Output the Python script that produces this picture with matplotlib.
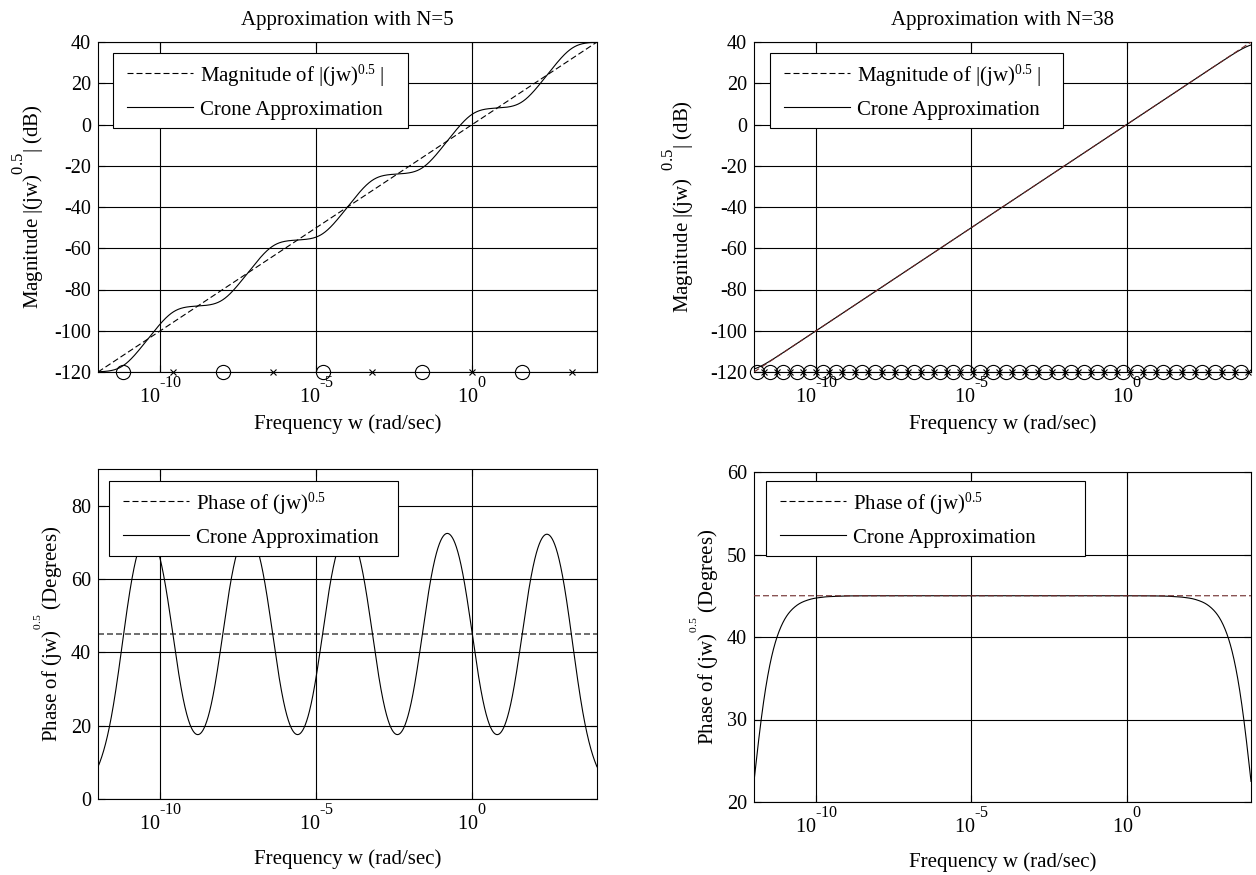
import numpy as np
import matplotlib
matplotlib.use("Agg")
import matplotlib.pyplot as plt
from matplotlib.ticker import FixedLocator, FixedFormatter
from matplotlib.legend_handler import HandlerLine2D

# Exponent layout: log tick labels use large, high exponents; axis labels use
# small high exponents; legend entries keep a normal superscript.
try:
    import matplotlib._mathtext as _mt
    _mt.FontConstantsBase.sup1 = 1.55
    _mt.SHRINK_FACTOR = 0.8
except Exception:
    _mt = None


def exponent_style(artist, sup1, shrink):
    if _mt is None:
        return
    orig_draw = artist.draw

    def draw(renderer, *args, **kwargs):
        saved = (_mt.FontConstantsBase.sup1, _mt.SHRINK_FACTOR)
        _mt.FontConstantsBase.sup1 = sup1
        _mt.SHRINK_FACTOR = shrink
        try:
            return orig_draw(renderer, *args, **kwargs)
        finally:
            _mt.FontConstantsBase.sup1, _mt.SHRINK_FACTOR = saved

    artist.draw = draw


plt.rcParams.update({
    "font.family": ["Liberation Serif", "DejaVu Serif"],
    "mathtext.fontset": "custom",
    "mathtext.rm": "Liberation Serif",
    "mathtext.it": "Liberation Serif:italic",
    "mathtext.bf": "Liberation Serif:bold",
    "axes.unicode_minus": False,
    "font.size": 14,
    "axes.linewidth": 0.8,
    "xtick.direction": "in",
    "ytick.direction": "in",
    "xtick.top": True,
    "ytick.right": True,
    "xtick.major.size": 5,
    "ytick.major.size": 5,
    "xtick.labelsize": 14.5,
    "ytick.labelsize": 14.5,
})

# Crone (Oustaloup) approximation of s^nu over a frequency band
nu = 0.5
w_low = 1e-12
w_high = 1e4
orders = [5, 38]

freq_ticks = [1e-10, 1e-5, 1e0]
freq_labels = [r"$\mathrm{10}^{\text{-10}}$", r"$\mathrm{10}^{\text{-5}}$", r"$\mathrm{10}^{\text{0}}$"]
mag_ticks = [-120, -100, -80, -60, -40, -20, 0, 20, 40]
phase_ticks = [[0, 20, 40, 60, 80], [20, 30, 40, 50, 60]]
mag_limits = (-120, 40)
phase_limits = [(0, 90), (20, 60)]

mag_ylabels = [r"Magnitude $|(\mathrm{jw})^{0.5}|$ (dB)",
               r"Magnitude $|(\mathrm{jw})^{\ \ 0.5}|$ (dB)"]
phase_ylabel = r"Phase of $(\mathrm{jw})^{\,0.5}$ (Degrees)"
mag_legend = [r"Magnitude of $|(\mathrm{jw})^{0.5}\ |$", "Crone Approximation"]
phase_legend = [r"Phase of $(\mathrm{jw})^{0.5}$", "Crone Approximation"]


def crone_network(N):
    k = np.arange(1, N + 1)
    span = w_high / w_low
    zeros = w_low * span ** ((2 * k - 1 - nu) / (2 * N))
    poles = w_low * span ** ((2 * k - 1 + nu) / (2 * N))
    return zeros, poles


w = np.logspace(np.log10(w_low), np.log10(w_high), 4000)
s = 1j * w
ideal_mag = 20 * np.log10(np.abs(s ** nu))
ideal_phase = np.degrees(np.angle(s ** nu))

fig = plt.figure(figsize=(12.56, 8.75), dpi=100)
W, H = 1256.0, 875.0


def place(x0, x1, y0, y1):
    return fig.add_axes([x0 / W, 1 - y1 / H, (x1 - x0) / W, (y1 - y0) / H])


axes_px = {
    (0, 0): (98, 597, 42, 372),
    (1, 0): (98, 597, 469, 799),
    (0, 1): (754, 1251, 42, 372),
    (1, 1): (754, 1251, 472, 802),
}
# legend boxes in axes fractions: left, top, width
legend_box = {
    (0, 0): (0.030, 0.967, 0.591),
    (1, 0): (0.022, 0.964, 0.579),
    (0, 1): (0.032, 0.967, 0.590),
    (1, 1): (0.024, 0.973, 0.642),
}


def style_freq_axis(ax):
    ax.set_xscale("log")
    ax.set_xlim(w_low, w_high)
    ax.xaxis.set_major_locator(FixedLocator(freq_ticks))
    ax.xaxis.set_major_formatter(FixedFormatter(freq_labels))
    ax.xaxis.set_minor_locator(FixedLocator([]))
    ax.grid(True, color="black", linewidth=0.8)
    ax.tick_params(axis="x", which="major", width=0.8, pad=4)
    ax.tick_params(axis="y", which="major", width=0.8, pad=5)
    for sp in ax.spines.values():
        sp.set_linewidth(0.8)


def set_ylabel(ax, text, pad):
    ax.set_ylabel(text, fontsize=15, labelpad=pad)
    exponent_style(ax.yaxis.label, 1.55, 0.55)


def add_legend(ax, handles, labels, box):
    x0, top, wid = box
    leg = ax.legend(handles, labels, loc="upper left",
                    bbox_to_anchor=(x0, top, wid, 0), mode="expand",
                    borderaxespad=0, fancybox=False, framealpha=1,
                    edgecolor="black", handlelength=3.43, handletextpad=0.34,
                    labelspacing=0.55, borderpad=0.42, fontsize=15,
                    handler_map={h: HandlerLine2D(xpad=0.25) for h in handles})
    leg.get_frame().set_linewidth(0.8)
    for ln in leg.get_lines():
        ln.set_color("black")
    exponent_style(leg, 0.7, 0.65)
    return leg


dash = (5.4, 2.7)

for col, N in enumerate(orders):
    zeros, poles = crone_network(N)
    resp = np.full_like(s, w_low ** nu)
    for z, p in zip(zeros, poles):
        resp = resp * (1 + s / z) / (1 + s / p)
    mag = 20 * np.log10(np.abs(resp))
    phase = np.degrees(np.angle(resp))

    ideal_color = "black" if col == 0 else "#6e2b2b"
    ideal_z = 2 if col == 0 else 3

    # magnitude
    ax = place(*axes_px[(0, col)])
    l1, = ax.plot(w, ideal_mag, color=ideal_color, linewidth=0.8, dashes=dash, zorder=ideal_z)
    l2, = ax.plot(w, mag, color="black", linewidth=0.8, zorder=2.5)
    ax.plot(zeros, np.full(N, mag_limits[0]), linestyle="none", marker="o",
            markersize=10.2, markerfacecolor="none", markeredgecolor="black",
            markeredgewidth=0.8, clip_on=False, zorder=4)
    ax.plot(poles, np.full(N, mag_limits[0]), linestyle="none", marker="x",
            markersize=5, markeredgecolor="black", markeredgewidth=0.8,
            clip_on=False, zorder=4)
    ax.set_ylim(*mag_limits)
    ax.yaxis.set_major_locator(FixedLocator(mag_ticks))
    style_freq_axis(ax)
    ax.set_title("Approximation with N=%d" % N, fontsize=15, pad=12.5)
    ax.set_xlabel("Frequency w (rad/sec)", fontsize=15, labelpad=4)
    set_ylabel(ax, mag_ylabels[col], 6 if col == 0 else 10)
    add_legend(ax, [l1, l2], mag_legend, legend_box[(0, col)])

    # phase
    ax = place(*axes_px[(1, col)])
    p1, = ax.plot(w, ideal_phase, color=ideal_color, linewidth=0.8, dashes=dash, zorder=ideal_z)
    p2, = ax.plot(w, phase, color="black", linewidth=0.8, zorder=2.5)
    ax.set_ylim(*phase_limits[col])
    ax.yaxis.set_major_locator(FixedLocator(phase_ticks[col]))
    style_freq_axis(ax)
    ax.set_xlabel("Frequency w (rad/sec)", fontsize=15, labelpad=10)
    set_ylabel(ax, phase_ylabel, 4)
    add_legend(ax, [p1, p2], phase_legend, legend_box[(1, col)])

fig.savefig("out.png", dpi=100)
